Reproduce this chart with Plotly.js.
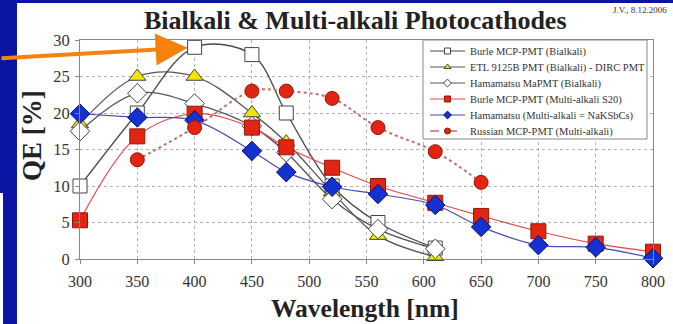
<!DOCTYPE html>
<html>
<head>
<meta charset="utf-8">
<script src="https://cdn.plot.ly/plotly-3.0.1.min.js"></script>
<style>html,body{margin:0;padding:0;background:#fff;}#chart{width:673px;height:324px;}</style>
</head>
<body>
<div id="chart"></div>
<script>
// ---- data ----
const seriesNames = [
  "Burle MCP-PMT (Bialkali)",
  "ETL 9125B PMT (Bialkali) - DIRC PMT",
  "Hamamatsu MaPMT (Bialkali)",
  "Burle MCP-PMT (Multi-alkali S20)",
  "Hamamatsu (Multi-alkali = NaKSbCs)",
  "Russian MCP-PMT (Multi-alkali)"
];
const burleBiX = [300, 350, 400, 450, 480, 520, 560, 610];
const burleBiY = [10, 20, 29, 28, 20, 10, 5, 1.5];
const etlX = [300, 350, 400, 450, 480, 520, 560, 610];
const etlY = [18.5, 25, 25, 20, 16, 9.2, 3.2, 0.3];
const hamaBiX = [300, 350, 400, 450, 480, 520, 560, 610];
const hamaBiY = [17.5, 22.7, 21.3, 18.2, 14.6, 8.2, 4.1, 1.4];
const burleS20X = [300, 350, 400, 450, 480, 520, 560, 610, 650, 700, 750, 800];
const burleS20Y = [5.3, 16.8, 19.9, 18, 15.3, 12.5, 10, 7.7, 5.9, 3.8, 2.1, 1];
const hamaNaX = [300, 350, 400, 450, 480, 520, 560, 610, 650, 700, 750, 800];
const hamaNaY = [19.9, 19.4, 19, 14.8, 11.9, 9.9, 8.9, 7.4, 4.4, 1.9, 1.6, 0.1];
const russX = [350, 400, 450, 480, 520, 560, 610, 650];
const russY = [13.6, 18, 23, 23, 22, 18, 14.7, 10.5];
const xTicks = [300, 350, 400, 450, 500, 550, 600, 650, 700, 750, 800];
const yTicks = [0, 5, 10, 15, 20, 25, 30];

const serif = "Liberation Serif";

const styles = [
  {line: {color: "#4a4a4a", width: 1.3, shape: "spline", smoothing: 1}, marker: {symbol: "square", color: "#ffffff", size: 14, line: {color: "#444", width: 1}}},
  {line: {color: "#555555", width: 1.3, shape: "spline", smoothing: 1}, marker: {symbol: "triangle-up", color: "#f2e600", size: 15, line: {color: "#444", width: 1}}},
  {line: {color: "#555555", width: 1.3, shape: "spline", smoothing: 1}, marker: {symbol: "diamond", color: "#ffffff", size: 15, line: {color: "#444", width: 1}}},
  {line: {color: "#e04848", width: 1.2, shape: "spline", smoothing: 1}, marker: {symbol: "square", color: "#e32410", size: 15, line: {color: "#8a1a10", width: 1}}},
  {line: {color: "#4a4ab8", width: 1.2, shape: "spline", smoothing: 1}, marker: {symbol: "diamond", color: "#1432d2", size: 15, line: {color: "#101060", width: 1}}},
  {line: {color: "#c07070", width: 2, dash: "dot", shape: "spline", smoothing: 1}, marker: {symbol: "circle", color: "#e32410", size: 14, line: {color: "#8a1a10", width: 1}}}
];
const xs = [burleBiX, etlX, hamaBiX, burleS20X, hamaNaX, russX];
const ys = [burleBiY, etlY, hamaBiY, burleS20Y, hamaNaY, russY];

// pixel->paper helpers for decoration placement
const L = 80, R = 653, T = 40, B = 259;
const px = v => (v - L) / (R - L);
const py = v => (B - v) / (B - T);

const legendIds = ["legend", "legend2", "legend3", "legend4", "legend5", "legend6"];
const rowY = [51, 67, 83, 99, 115, 131];

const traces = [];
for (let i = 0; i < 6; i++) {
  traces.push({
    type: "scatter", mode: "lines+markers", x: xs[i], y: ys[i],
    name: seriesNames[i], showlegend: false, cliponaxis: false,
    line: styles[i].line, marker: styles[i].marker, hoverinfo: "x+y+name"
  });
}
// legend entries with small markers, one compact legend per row
for (let i = 0; i < 6; i++) {
  const m = JSON.parse(JSON.stringify(styles[i].marker));
  m.size = 6;
  const l = JSON.parse(JSON.stringify(styles[i].line));
  l.width = i === 5 ? 1.5 : 1.2;
  if (i === 5) l.dash = "dash";
  traces.push({
    type: "scatter", mode: "lines+markers", x: [null], y: [null],
    name: seriesNames[i], showlegend: true, legend: legendIds[i], line: l, marker: m
  });
}

const layout = {
  width: 673, height: 324,
  margin: {l: L, r: 673 - R, t: T, b: 324 - B},
  paper_bgcolor: "#0b14a3",
  plot_bgcolor: "rgba(0,0,0,0)",
  font: {family: serif, color: "#333"},
  showlegend: true,
  xaxis: {
    range: [300, 800], tickvals: xTicks, ticktext: xTicks.map(String),
    showgrid: true, gridcolor: "#b0b0b0", griddash: "dot", gridwidth: 1,
    showline: true, linecolor: "#888", linewidth: 1, mirror: true,
    ticks: "outside", ticklen: 4, tickcolor: "#888",
    tickfont: {family: serif, size: 16, color: "#333"},
    ticklabelstandoff: 4, zeroline: false, fixedrange: true
  },
  yaxis: {
    range: [0, 30], tickvals: yTicks, ticktext: yTicks.map(String),
    showgrid: true, gridcolor: "#b0b0b0", griddash: "dot", gridwidth: 1,
    showline: true, linecolor: "#888", linewidth: 1, mirror: true,
    ticks: "outside", ticklen: 4, tickcolor: "#888",
    tickfont: {family: serif, size: 16.5, color: "#333"},
    ticklabelstandoff: 2, zeroline: false, fixedrange: true
  },
  shapes: [
    {type: "rect", xref: "paper", yref: "paper", layer: "below",
     x0: px(17), x1: px(673), y0: py(3), y1: py(324),
     fillcolor: "#ffffff", line: {width: 0}},
    {type: "rect", xref: "paper", yref: "paper", layer: "below",
     x0: px(0), x1: px(3), y0: py(193), y1: py(324),
     fillcolor: "#ffffff", line: {width: 0}},
    {type: "rect", xref: "paper", yref: "paper", layer: "above",
     x0: px(423), x1: px(647), y0: py(40), y1: py(139),
     fillcolor: "#ffffff", line: {color: "#888", width: 1}}
  ],
  annotations: [
    {text: "<b>Bialkali & Multi-alkali Photocathodes</b>", xref: "paper", yref: "paper",
     x: px(355), y: py(20), xanchor: "center", yanchor: "middle", showarrow: false,
     font: {family: serif, size: 26, color: "#222"}},
    {text: "J.V., 8.12.2006", xref: "paper", yref: "paper",
     x: px(669), y: py(10), xanchor: "right", yanchor: "middle", showarrow: false,
     font: {family: serif, size: 9, color: "#333"}},
    {text: "<b>Wavelength [nm]</b>", xref: "paper", yref: "paper",
     x: px(365), y: py(308), xanchor: "center", yanchor: "middle", showarrow: false,
     font: {family: serif, size: 25.5, color: "#222"}},
    {text: "<b>QE [%]</b>", xref: "paper", yref: "paper", textangle: -90,
     x: px(32), y: py(136), xanchor: "center", yanchor: "middle", showarrow: false,
     font: {family: serif, size: 27, color: "#222"}},
    {text: "", x: 400, y: 29, xref: "x", yref: "y", showarrow: true,
     ax: -196, ay: 11, axref: "pixel", ayref: "pixel",
     arrowhead: 2, arrowsize: 1.6, arrowwidth: 4, arrowcolor: "#f5820f", standoff: 7}
  ]
};
legendIds.forEach((id, i) => {
  layout[id] = {
    x: px(425), y: py(rowY[i]), xanchor: "left", yanchor: "middle",
    bgcolor: "rgba(0,0,0,0)", borderwidth: 0,
    font: {family: serif, size: 10.5, color: "#333"},
    itemwidth: 35, tracegroupgap: 0
  };
});

Plotly.newPlot("chart", traces, layout, {displayModeBar: false, staticPlot: true});
</script>
</body>
</html>
